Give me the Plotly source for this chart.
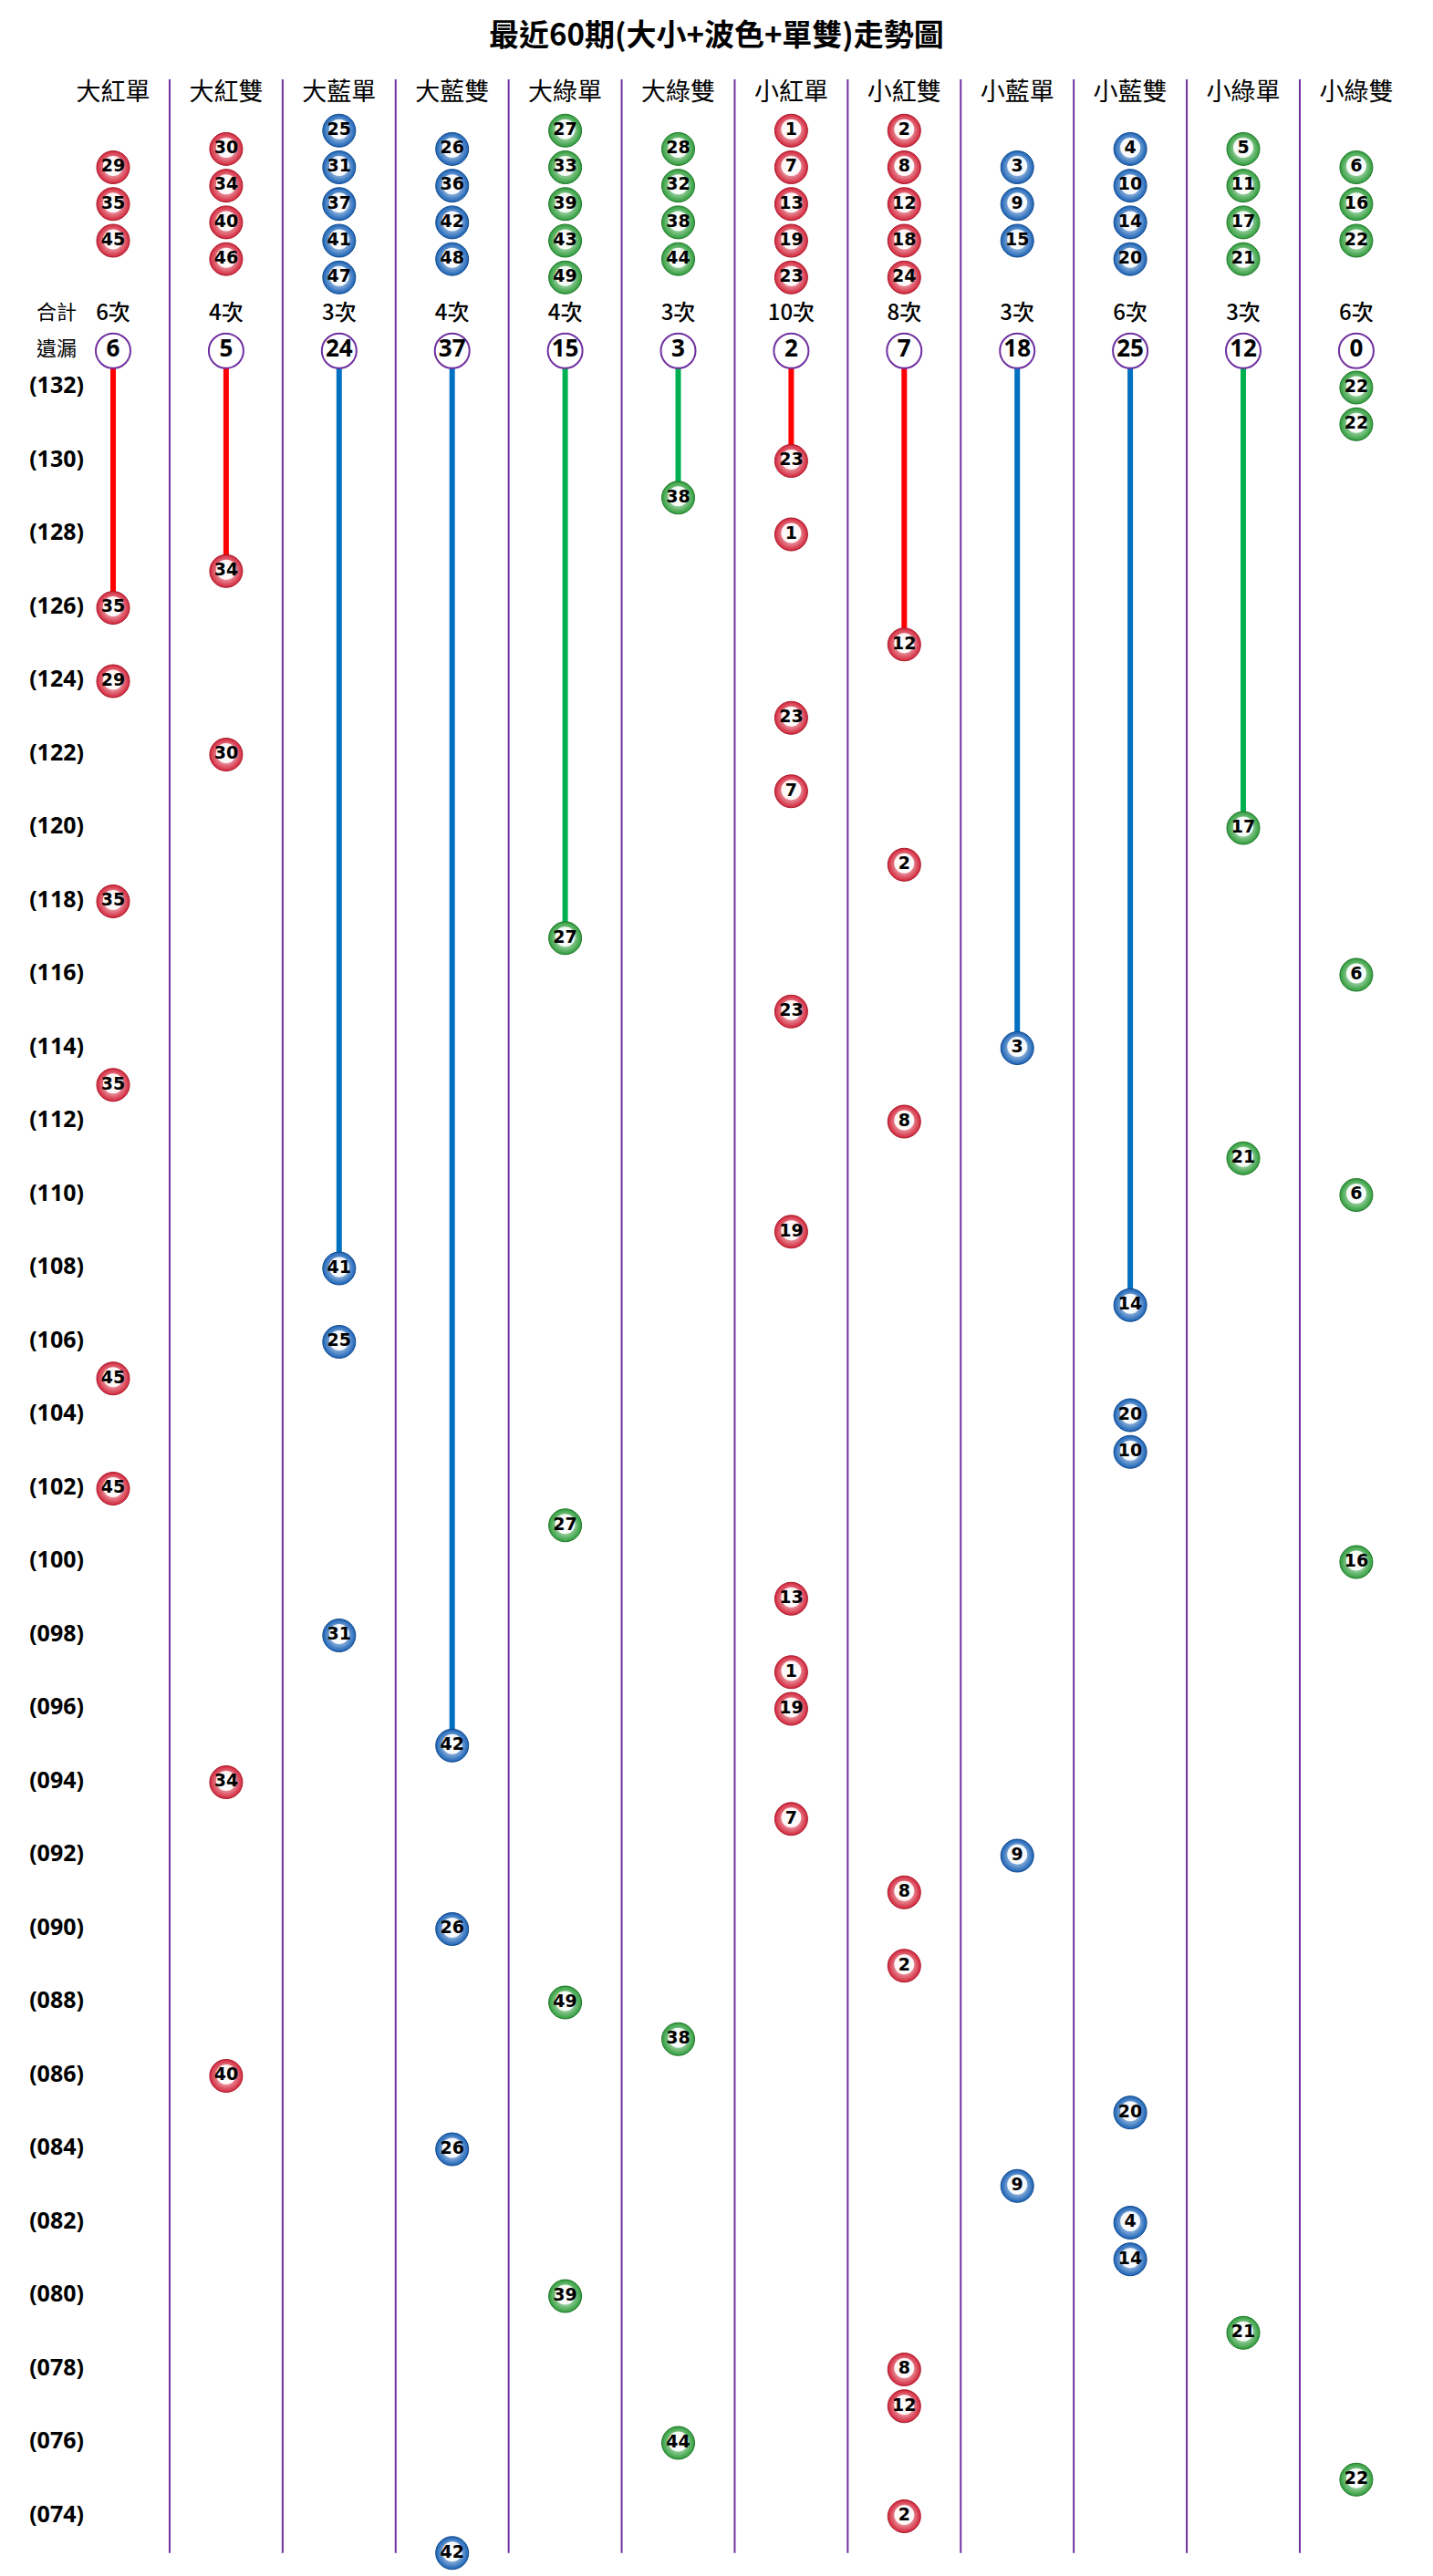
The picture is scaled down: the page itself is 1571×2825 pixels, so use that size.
import plotly.graph_objects as go

# ---------------- data ----------------
TITLE = "最近60期(大小+波色+單雙)走勢圖"

categories = ["大紅單", "大紅雙", "大藍單", "大藍雙", "大綠單", "大綠雙",
              "小紅單", "小紅雙", "小藍單", "小藍雙", "小綠單", "小綠雙"]

group_numbers = [
    [29, 35, 45],
    [30, 34, 40, 46],
    [25, 31, 37, 41, 47],
    [26, 36, 42, 48],
    [27, 33, 39, 43, 49],
    [28, 32, 38, 44],
    [1, 7, 13, 19, 23],
    [2, 8, 12, 18, 24],
    [3, 9, 15],
    [4, 10, 14, 20],
    [5, 11, 17, 21],
    [6, 16, 22],
]

group_colors = ["red", "red", "blue", "blue", "green", "green",
                "red", "red", "blue", "blue", "green", "green"]

total_counts = [6, 4, 3, 4, 4, 3, 10, 8, 3, 6, 3, 6]
miss_counts = [6, 5, 24, 37, 15, 3, 2, 7, 18, 25, 12, 0]

periods = list(range(132, 72, -1))  # 132 ... 073
draw_numbers = [22, 22, 23, 38, 1, 34, 35, 12, 29, 23,
                30, 7, 17, 2, 35, 27, 6, 23, 3, 35,
                8, 21, 6, 19, 41, 14, 25, 45, 20, 10,
                45, 27, 16, 13, 31, 1, 19, 42, 34, 7,
                9, 8, 26, 2, 49, 38, 40, 20, 26, 9,
                4, 14, 39, 21, 8, 12, 44, 22, 2, 42]

label_periods = [132, 130, 128, 126, 124, 122, 120, 118, 116, 114,
                 112, 110, 108, 106, 104, 102, 100, 98, 96, 94,
                 92, 90, 88, 86, 84, 82, 80, 78, 76, 74]

# ---------------- styling / layout constants ----------------
W, H = 1571, 2825
COL_W = 123.9      # px per column
ROW_H = 40.25      # px per period
X0_PX = 124.0      # pixel x of column 0 centre
Y_REF_PX = 425.0   # pixel y of period 132
Y_REF = 132

HEADER_Y = 140.0
TOTAL_Y = 134.0
MISS_Y = 133.0
GROUP_CENTER_Y = 137.0
SEP_TOP = 140.4
SEP_BOTTOM = 73.0
LABEL_X = -0.5

SEP_COLOR = "#7030a0"
LINE_COLOR = {"red": "#ff0000", "blue": "#0070c0", "green": "#00b050"}
RIM_COLOR = {"red": "#d3263b", "blue": "#1a62b6", "green": "#2f9d3b"}
EDGE_COLOR = {"red": "#a8192a", "blue": "#124a8c", "green": "#21772b"}

CJK = "Noto Sans CJK TC, Noto Sans CJK SC, sans-serif"
LATIN = "Open Sans, Noto Sans, sans-serif"
BALLFONT = "DejaVu Sans, Liberation Sans, sans-serif"

fig = go.Figure()

# column separators
sx, sy = [], []
for k in range(len(categories) - 1):
    sx += [k + 0.5, k + 0.5, None]
    sy += [SEP_TOP, SEP_BOTTOM, None]
fig.add_trace(go.Scatter(x=sx, y=sy, mode="lines",
                         line=dict(color=SEP_COLOR, width=2),
                         hoverinfo="skip"))

# column lookup
num_to_col = {}
for c, nums in enumerate(group_numbers):
    for n in nums:
        num_to_col[n] = c

draw_cols = [num_to_col[n] for n in draw_numbers]

# trend lines from miss circle to first hit
for c in range(len(categories)):
    first = None
    for p, col in zip(periods, draw_cols):
        if col == c:
            first = p
            break
    if first is None or first == periods[0]:
        continue
    fig.add_trace(go.Scatter(x=[c, c], y=[MISS_Y, first], mode="lines",
                             line=dict(color=LINE_COLOR[group_colors[c]], width=6),
                             hoverinfo="skip"))

# collect balls (header groups + draws)
bx, by, bn, bc = [], [], [], []
for c, nums in enumerate(group_numbers):
    n = len(nums)
    for i, v in enumerate(nums):
        bx.append(c)
        by.append(GROUP_CENTER_Y + (n - 1) / 2 - i)
        bn.append(v)
        bc.append(group_colors[c])
for p, v, c in zip(periods, draw_numbers, draw_cols):
    bx.append(c)
    by.append(p)
    bn.append(v)
    bc.append(group_colors[c])

# ball rim with radial gradient
fig.add_trace(go.Scatter(
    x=bx, y=by, mode="markers",
    marker=dict(size=36, color=[RIM_COLOR[k] for k in bc],
                gradient=dict(type="radial", color="#ffffff"),
                line=dict(width=1, color=[EDGE_COLOR[k] for k in bc])),
    hoverinfo="skip"))
# white centre
fig.add_trace(go.Scatter(
    x=bx, y=[y + 1.5 / ROW_H for y in by], mode="markers",
    marker=dict(size=22, color="rgba(255,255,255,0.92)", line=dict(width=0)),
    hoverinfo="skip"))
# ball numbers
fig.add_trace(go.Scatter(
    x=bx, y=by, mode="text", text=[str(v) for v in bn],
    textposition="middle center",
    textfont=dict(family=BALLFONT, size=19, color="#000000", weight="bold"),
    hoverinfo="skip"))

# miss circles
cols = list(range(len(categories)))
fig.add_trace(go.Scatter(
    x=cols, y=[MISS_Y] * len(cols), mode="markers+text",
    text=[str(v) for v in miss_counts], textposition="middle center",
    marker=dict(size=38, color="white", line=dict(color=SEP_COLOR, width=2)),
    textfont=dict(family=LATIN, size=26, color="#000000", weight="bold"),
    hoverinfo="skip"))

# totals
fig.add_trace(go.Scatter(
    x=cols, y=[TOTAL_Y] * len(cols), mode="text",
    text=[f"{v}次" for v in total_counts], textposition="middle center",
    textfont=dict(family=CJK, size=24, color="#000000", weight=500),
    hoverinfo="skip"))

# column headers
fig.add_trace(go.Scatter(
    x=cols, y=[HEADER_Y] * len(cols), mode="text",
    text=categories, textposition="middle center",
    textfont=dict(family=CJK, size=27, color="#000000"),
    hoverinfo="skip"))

# row labels
fig.add_trace(go.Scatter(
    x=[LABEL_X, LABEL_X], y=[TOTAL_Y, MISS_Y], mode="text",
    text=["合計", "遺漏"], textposition="middle center",
    textfont=dict(family=CJK, size=22, color="#000000"),
    hoverinfo="skip"))
fig.add_trace(go.Scatter(
    x=[LABEL_X] * len(label_periods), y=label_periods, mode="text",
    text=[f"({p:03d})" for p in label_periods], textposition="middle center",
    textfont=dict(family=LATIN, size=25, color="#000000", weight="bold"),
    hoverinfo="skip"))

fig.add_annotation(x=0.5, xref="paper", y=Y_REF + (Y_REF_PX - 36) / ROW_H, yref="y",
                   text=TITLE, showarrow=False, xanchor="center", yanchor="middle",
                   font=dict(family=CJK, size=33, color="#000000", weight="bold"))

x_lo = -X0_PX / COL_W
x_hi = (W - X0_PX) / COL_W
y_hi = Y_REF + Y_REF_PX / ROW_H
y_lo = Y_REF - (H - Y_REF_PX) / ROW_H

fig.update_layout(
    width=W, height=H,
    margin=dict(l=0, r=0, t=0, b=0),
    paper_bgcolor="white", plot_bgcolor="white",
    showlegend=False,
    xaxis=dict(range=[x_lo, x_hi], visible=False, fixedrange=True),
    yaxis=dict(range=[y_lo, y_hi], visible=False, fixedrange=True),
)

fig.write_html("out.html", config={"displayModeBar": False},
               post_script="document.body.style.margin='0';document.body.style.overflow='hidden';")
